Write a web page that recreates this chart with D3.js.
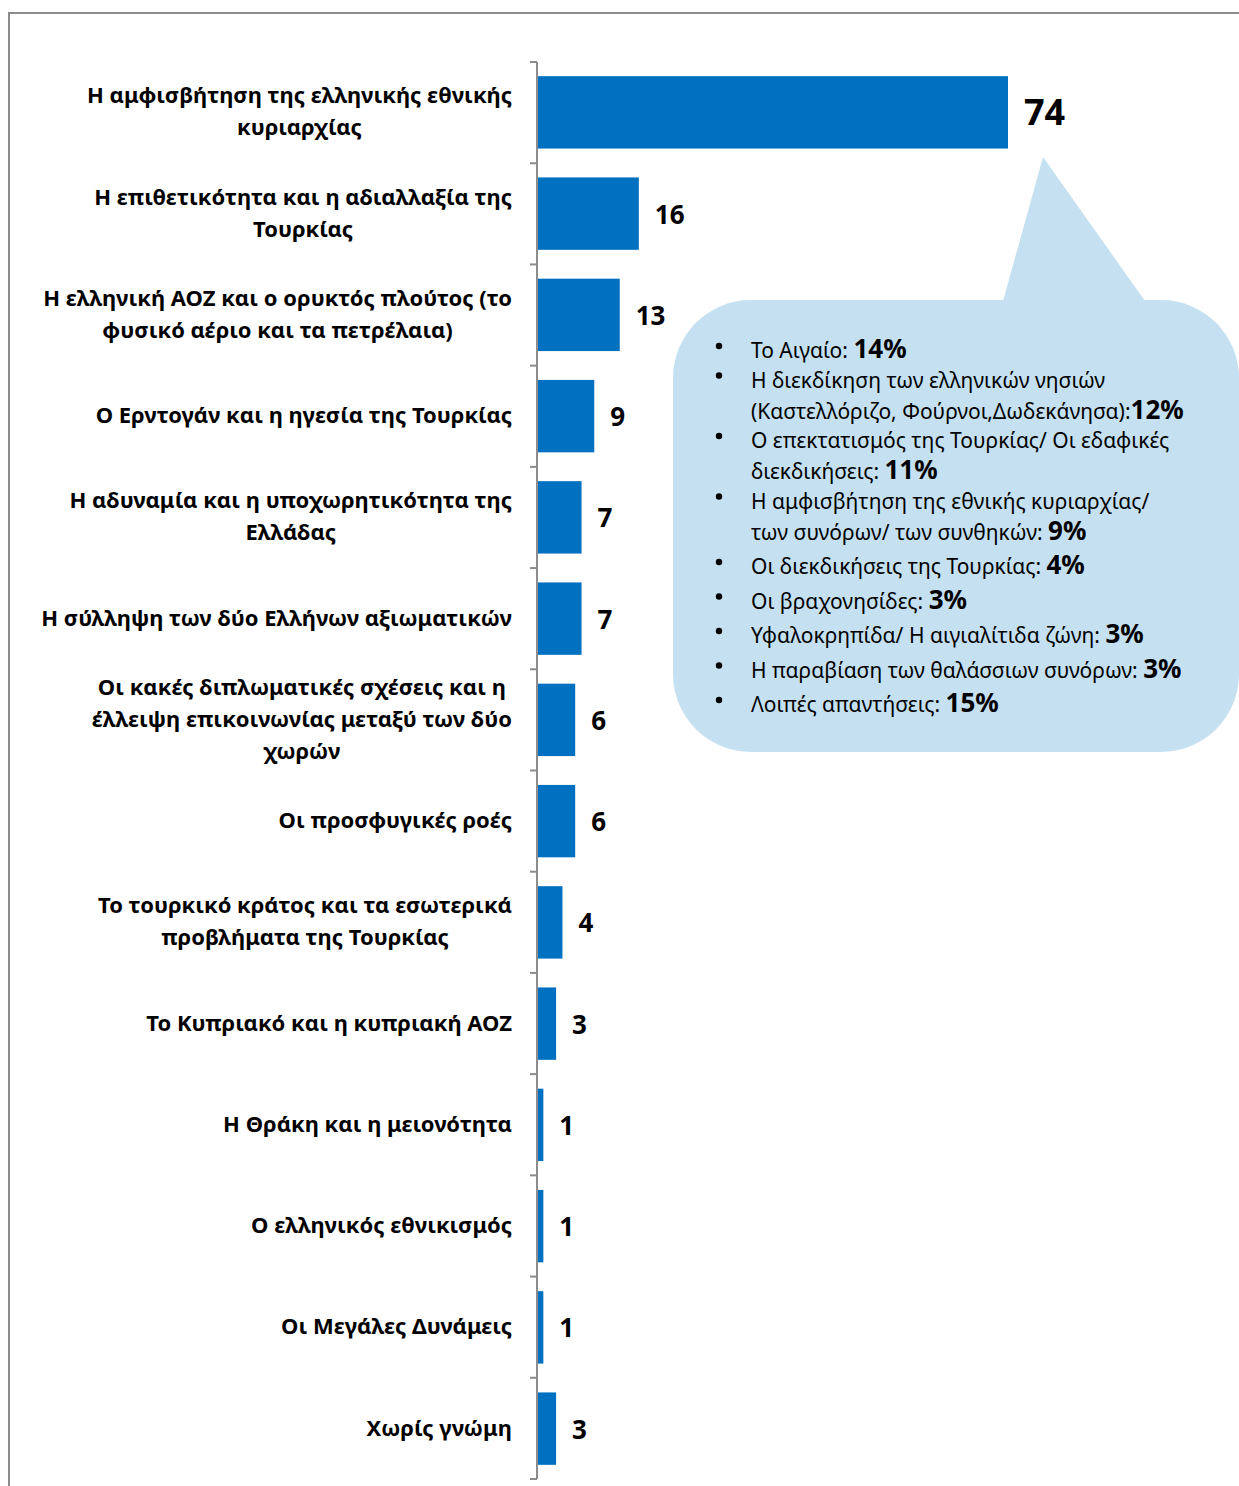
<!DOCTYPE html>
<html>
<head>
<meta charset="utf-8">
<script src="https://cdn.jsdelivr.net/npm/d3@7"></script>
<style>
  body { margin: 0; background: #fff; }
  svg text { font-family: "Noto Sans", "Open Sans", sans-serif; }
</style>
</head>
<body>
<div id="chartDiv"></div>
<script>

// Data
var categories = [
	"Η αμφισβήτηση της ελληνικής εθνικής\nκυριαρχίας",
	"Η επιθετικότητα και η αδιαλλαξία της\nΤουρκίας",
	"Η ελληνική ΑΟΖ και ο ορυκτός πλούτος (το\nφυσικό αέριο και τα πετρέλαια)",
	"Ο Ερντογάν και η ηγεσία της Τουρκίας",
	"Η αδυναμία και η υποχωρητικότητα της\nΕλλάδας",
	"Η σύλληψη των δύο Ελλήνων αξιωματικών",
	"Οι κακές διπλωματικές σχέσεις και η\nέλλειψη επικοινωνίας μεταξύ των δύο\nχωρών",
	"Οι προσφυγικές ροές",
	"Το τουρκικό κράτος και τα εσωτερικά\nπροβλήματα της Τουρκίας",
	"Το Κυπριακό και η κυπριακή ΑΟΖ",
	"Η Θράκη και η μειονότητα",
	"Ο ελληνικός εθνικισμός",
	"Οι Μεγάλες Δυνάμεις",
	"Χωρίς γνώμη"
];
var values = [74, 16, 13, 9, 7, 7, 6, 6, 4, 3, 1, 1, 1, 3];

// Callout list: each item is lines of text, last line ends with the bold percent
var calloutLines = [
	["Το Αιγαίο: "],
	["Η διεκδίκηση των ελληνικών νησιών", "(Καστελλόριζο, Φούρνοι,Δωδεκάνησα):"],
	["Ο επεκτατισμός της Τουρκίας/ Οι εδαφικές", "διεκδικήσεις: "],
	["Η αμφισβήτηση της εθνικής κυριαρχίας/", "των συνόρων/ των συνθηκών: "],
	["Οι διεκδικήσεις της Τουρκίας: "],
	["Οι βραχονησίδες: "],
	["Υφαλοκρηπίδα/ Η αιγιαλίτιδα ζώνη: "],
	["Η παραβίαση των θαλάσσιων συνόρων: "],
	["Λοιπές απαντήσεις: "]
];
var calloutPcts = ["14%", "12%", "11%", "9%", "4%", "3%", "3%", "3%", "15%"];

// Constants
var WIDTH      = 1239;
var HEIGHT     = 1486;
var AXIS_X     = 537;
var AXIS_TOP   = 62;
var AXIS_BOT   = 1479;
var BAR_COLOR  = "#0070C0";
var GRAY       = "#8c8c8c";
var BUBBLE     = "#C5E1F1";

var svg = d3.select("#chartDiv").append("svg")
	.attr("width", WIDTH)
	.attr("height", HEIGHT);

// Outer frame (top and left edges visible)
svg.append("path")
	.attr("d", "M9," + HEIGHT + " L9,13 L" + WIDTH + ",13")
	.attr("fill", "none")
	.attr("stroke", GRAY)
	.attr("stroke-width", 2);

var x = d3.scaleLinear()
	.domain([0, 74])
	.range([AXIS_X, 1008]);

var y = d3.scaleBand()
	.domain(categories)
	.range([AXIS_TOP, AXIS_BOT])
	.paddingInner(0.285)
	.paddingOuter(0.14);

// Bars
svg.selectAll("rect.bar")
	.data(values)
	.enter()
	.append("rect")
	  .attr("class", "bar")
	  .attr("x", x(0))
	  .attr("y", function(d, i) { return y(categories[i]); })
	  .attr("width", function(d) { return x(d) - x(0); })
	  .attr("height", y.bandwidth())
	  .attr("fill", BAR_COLOR);

// Axis line with ticks at category boundaries
var step = (AXIS_BOT - AXIS_TOP) / categories.length;
svg.append("line")
	.attr("x1", AXIS_X).attr("x2", AXIS_X)
	.attr("y1", AXIS_TOP).attr("y2", AXIS_BOT)
	.attr("stroke", GRAY)
	.attr("stroke-width", 2);
svg.selectAll("line.tick")
	.data(d3.range(categories.length + 1))
	.enter()
	.append("line")
	  .attr("class", "tick")
	  .attr("x1", AXIS_X - 7).attr("x2", AXIS_X)
	  .attr("y1", function(i) { return AXIS_TOP + i * step; })
	  .attr("y2", function(i) { return AXIS_TOP + i * step; })
	  .attr("stroke", GRAY)
	  .attr("stroke-width", 2);

// Category labels
var LINE_H = 32;
var labels = svg.selectAll("text.catLabel")
	.data(categories)
	.enter()
	.append("text")
	  .attr("class", "catLabel")
	  .attr("text-anchor", "middle")
	  .attr("font-size", 22)
	  .attr("font-weight", "bold")
	  .attr("fill", "#000");

labels.each(function(d) {
	var lines = d.split("\n");
	var cy = y(d) + y.bandwidth() / 2;
	var first = cy - (lines.length - 1) * LINE_H / 2 + 7;
	var t = d3.select(this);
	// Right-align the block by measuring the widest line, then center lines inside
	lines.forEach(function(line, k) {
		t.append("tspan")
		  .attr("y", first + k * LINE_H)
		  .text(line);
	});
	var widest = 0;
	t.selectAll("tspan").each(function() {
		widest = Math.max(widest, this.getComputedTextLength());
	});
	t.selectAll("tspan").attr("x", 512 - widest / 2);
});

// Value labels
svg.selectAll("text.valLabel")
	.data(values)
	.enter()
	.append("text")
	  .attr("class", "valLabel")
	  .attr("x", function(d) { return x(d) + 16; })
	  .attr("y", function(d, i) { return y(categories[i]) + y.bandwidth() / 2 + (i === 0 ? 13 : 10); })
	  .attr("font-size", function(d, i) { return i === 0 ? 36 : 26; })
	  .attr("font-weight", "bold")
	  .attr("fill", "#000")
	  .text(function(d) { return d; });

// Speech bubble callout
var bubble = svg.append("g").attr("class", "callout");
bubble.append("rect")
	.attr("x", 673).attr("y", 300)
	.attr("width", 566).attr("height", 452)
	.attr("rx", 78).attr("ry", 78)
	.attr("fill", BUBBLE);
bubble.append("path")
	.attr("d", "M1003,301 L1043,157 L1145,301 Z")
	.attr("fill", BUBBLE);

// Lines holding the big bold percent are taller, like in a word processor
var TXT_X = 751, BULLET_X = 719;
var baseY = 358;
var prevBig = true;
calloutLines.forEach(function(item, i) {
	item.forEach(function(line, k) {
		var big = (k === item.length - 1);
		if (!(i === 0 && k === 0)) {
			if (big && prevBig) baseY += 34.5;
			else if (big) baseY += 31;
			else baseY += 29.5;
		}
		if (k === 0) {
			bubble.append("circle")
				.attr("cx", BULLET_X)
				.attr("cy", baseY - 12)
				.attr("r", 3.2)
				.attr("fill", "#000");
		}
		var t = svg.append("text")
			.attr("x", TXT_X)
			.attr("y", baseY)
			.attr("font-size", 21)
			.attr("fill", "#000");
		t.append("tspan").text(line);
		if (big) {
			t.append("tspan")
				.attr("font-size", 26)
				.attr("font-weight", "bold")
				.text(calloutPcts[i]);
		}
		prevBig = big;
	});
});

</script>
</body>
</html>
